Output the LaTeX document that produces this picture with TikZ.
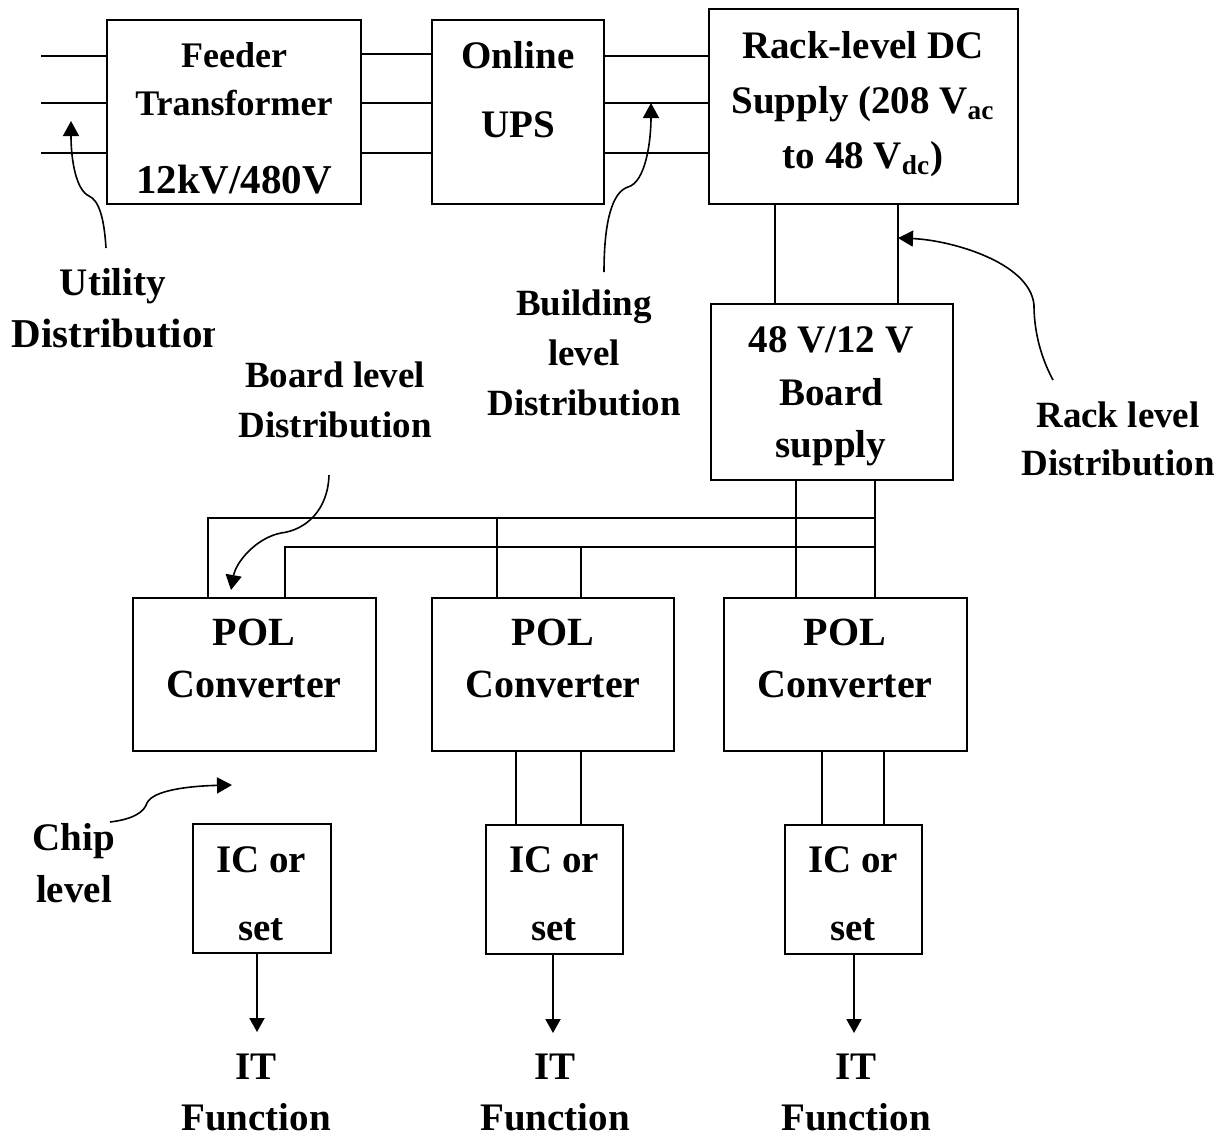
\documentclass[tikz,border=0pt]{standalone}
\usepackage{fontspec}
\setmainfont{Liberation Serif}
\usetikzlibrary{fit,arrows.meta}
\begin{document}
\begin{tikzpicture}[x=0.5pt,y=-0.5pt,
  box/.style={draw, line width=1pt, inner sep=0pt, outer sep=0pt},
  wire/.style={line width=1pt},
  curvy/.style={line width=0.8pt, -{Triangle[length=7.5pt,width=8pt]}},
  arr/.style={line width=1pt, -{Triangle[length=7pt,width=7.5pt]}},
  lbl/.style={anchor=base, inner sep=0pt, font=\bfseries\fontsize{19.5pt}{20pt}\selectfont},
  lblS/.style={lbl, font=\bfseries\fontsize{18.5pt}{20pt}\selectfont},
]
\useasboundingbox (0,0) rectangle (1227,1137);

% boxes
\node[box, fit={(107,20) (361,204)}] (feeder) {};
\node[box, fit={(432,20) (604,204)}] (ups) {};
\node[box, fit={(709,9) (1018,204)}] (rack) {};
\node[box, fit={(711,304) (953,480)}] (board) {};
\node[box, fit={(133,598) (376,751)}] (pol1) {};
\node[box, fit={(432,598) (674,751)}] (pol2) {};
\node[box, fit={(724,598) (967,751)}] (pol3) {};
\node[box, fit={(193,824) (331,953)}] (ic1) {};
\node[box, fit={(486,825) (623,954)}] (ic2) {};
\node[box, fit={(785,825) (922,954)}] (ic3) {};

% box texts
\node[lbl, font=\bfseries\fontsize{18pt}{20pt}\selectfont] (tF1) at (234,67) {Feeder};
\node[lbl, font=\bfseries\fontsize{18pt}{20pt}\selectfont] (tF2) at (234,115) {Transformer};
\node[lbl, font=\bfseries\fontsize{20.5pt}{22pt}\selectfont] (tF3) at (234,193) {12kV/480V};
\node[lbl] (tU1) at (518,68) {Online};
\node[lbl] (tU2) at (518,137) {UPS};
\node[lbl] (tR1) at (863,58) {Rack-level DC};
\node[lbl] (tR2) at (863,113) {Supply (208 V\textsubscript{ac}};
\node[lbl] (tR3) at (863,168) {to 48 V\textsubscript{dc})};
\node[lbl] (tB1) at (831,352) {48 V/12 V};
\node[lbl] (tB2) at (831,405) {Board};
\node[lbl] (tB3) at (831,457) {supply};
\foreach \n/\x in {1/254, 2/553, 3/845} {
  \node[lbl, font=\bfseries\fontsize{20pt}{22pt}\selectfont] (tP\n a) at (\x,645) {POL};
  \node[lbl, font=\bfseries\fontsize{20pt}{22pt}\selectfont] (tP\n b) at (\x,697) {Converter};
}
\foreach \n/\x in {1/261, 2/554, 3/853} {
  \node[lbl] (tI\n a) at (\x,872) {IC or};
  \node[lbl] (tI\n b) at (\x,940) {set};
}
\foreach \n/\x in {1/256, 2/555, 3/856} {
  \node[lbl] (tT\n a) at (\x,1079) {IT};
  \node[lbl] (tT\n b) at (\x,1130) {Function};
}

% free labels
\node[lbl] (uti1) at (113,295) {Utility};
\begin{scope}
  \clip (0,300) rectangle (214,370);
  \node[lbl, anchor=base west, font=\bfseries\fontsize{20.5pt}{22pt}\selectfont] (uti2) at (11,347) {Distribution};
\end{scope}
\node[lblS] (bld1) at (584,315) {Building};
\node[lblS] (bld2) at (584,365) {level};
\node[lblS] (bld3) at (584,415) {Distribution};
\node[lblS] (brd1) at (335,387) {Board level};
\node[lblS] (brd2) at (335,437) {Distribution};
\node[lblS] (rk1) at (1118,427) {Rack level};
\node[lblS] (rk2) at (1118,475) {Distribution};
\node[lbl] (ch1) at (74,850) {Chip};
\node[lbl] (ch2) at (74,902) {level};

% input lines
\coordinate (in1) at (41,56);
\coordinate (in2) at (41,103);
\coordinate (in3) at (41,153);
\draw[wire] (in1) -- (feeder.west |- in1);
\draw[wire] (in2) -- (feeder.west |- in2);
\draw[wire] (in3) -- (feeder.west |- in3);
\foreach \y in {54,103,153}
  \draw[wire] (feeder.east |- 0,\y) -- (ups.west |- 0,\y);
\foreach \y in {56,103,153}
  \draw[wire] (ups.east |- 0,\y) -- (rack.west |- 0,\y);

% rack to board
\draw[wire] (rack.south -| 775,0) -- (board.north -| 775,0);
\draw[wire] (rack.south -| 898,0) -- (board.north -| 898,0);

% board bus
\coordinate (busA) at (875,518);
\coordinate (busB) at (875,547);
\draw[wire] (board.south -| 796,0) -- (pol3.north -| 796,0);
\draw[wire] (board.south -| 875,0) -- (pol3.north -| 875,0);
\draw[wire] (pol1.north -| 208,0) |- (busA);
\draw[wire] (pol1.north -| 285,0) |- (busB);
\draw[wire] (pol2.north -| 497,0) -- (busA -| 497,0);
\draw[wire] (pol2.north -| 581,0) -- (busB -| 581,0);

% POL to IC
\draw[wire] (pol2.south -| 516,0) -- (ic2.north -| 516,0);
\draw[wire] (pol2.south -| 581,0) -- (ic2.north -| 581,0);
\draw[wire] (pol3.south -| 822,0) -- (ic3.north -| 822,0);
\draw[wire] (pol3.south -| 884,0) -- (ic3.north -| 884,0);

% IC to IT function
\coordinate (e1) at (257,1032);
\coordinate (e2) at (553,1033);
\coordinate (e3) at (854,1033);
\draw[arr] (ic1.south -| e1) -- (e1);
\draw[arr] (ic2.south -| e2) -- (e2);
\draw[arr] (ic3.south -| e3) -- (e3);

% curved pointer arrows
\coordinate (pU) at (71,121);
\coordinate (pB) at (651,103);
\coordinate (pR) at (898,238);
\coordinate (pD) at (231,590);
\coordinate (pC) at (232,785);
\draw[curvy] (106,248) .. controls (104,215) and (98,200) .. (89,196)
  .. controls (76,190) and (71,160) .. (pU);
\draw[curvy] (604,272) .. controls (604,222) and (612,192) .. (628,187)
  .. controls (646,182) and (651,140) .. (pB);
\draw[curvy] (1053,380) .. controls (1038,352) and (1034,325) .. (1034,305)
  .. controls (1030,262) and (950,240) .. (pR);
\draw[curvy] (329,475) .. controls (328,510) and (306,530) .. (281,533)
  .. controls (256,538) and (236,562) .. (pD);
\draw[curvy] (110,822) .. controls (134,819) and (144,812) .. (147,803)
  .. controls (153,790) and (190,786) .. (pC);
\end{tikzpicture}
\end{document}
